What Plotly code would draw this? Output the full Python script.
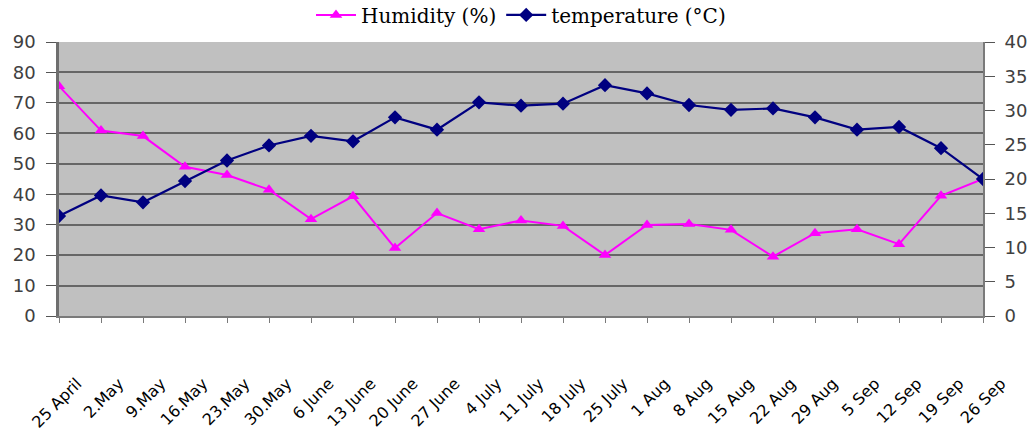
import plotly.graph_objects as go

# Weekly observation dates
dates = ["25 April", "2.May", "9.May", "16.May", "23.May", "30.May", "6 June",
         "13 June", "20 June", "27 June", "4 July", "11 July", "18 July",
         "25 July", "1 Aug", "8 Aug", "15 Aug", "22 Aug", "29 Aug", "5 Sep",
         "12 Sep", "19 Sep", "26 Sep"]

# Relative humidity (%), left axis
humidity = [75.5, 60.9, 59.1, 49.0, 46.3, 41.5, 31.8, 39.3, 22.3, 33.8, 28.5, 31.4,
            29.6, 20.0, 29.9, 30.2, 28.3, 19.5, 27.2, 28.5, 23.6, 39.5, 45.0]

# Air temperature (°C), right axis
temperature = [14.6, 17.6, 16.6, 19.7, 22.7, 24.9, 26.3, 25.5, 29.0, 27.2, 31.2, 30.7,
               31.0, 33.7, 32.5, 30.8, 30.1, 30.3, 29.0, 27.2, 27.6, 24.5, 20.0]

left_ticks = list(range(0, 91, 10))
right_ticks = list(range(0, 41, 5))

fig = go.Figure()

fig.add_trace(go.Scatter(
    x=dates, y=humidity, name="Humidity (%)", mode="lines+markers",
    line=dict(color="#ff00ff", width=2),
    marker=dict(symbol="triangle-up", size=11, color="#ff00ff"),
    yaxis="y",
))
fig.add_trace(go.Scatter(
    x=dates, y=temperature, name="temperature (°C)", mode="lines+markers",
    line=dict(color="#000080", width=2.2),
    marker=dict(symbol="diamond", size=11, color="#000080"),
    yaxis="y2",
))

axis_font = dict(family="DejaVu Sans", size=18, color="#404040")

fig.update_layout(
    width=1033, height=439,
    margin=dict(l=59, r=50, t=42, b=123, autoexpand=False),
    paper_bgcolor="white",
    plot_bgcolor="#c0c0c0",
    showlegend=True,
    legend=dict(
        orientation="h", x=0.5, xanchor="center",
        y=0.966, yref="container", yanchor="middle",
        font=dict(family="DejaVu Serif", size=20, color="black"),
        bgcolor="rgba(0,0,0,0)", itemwidth=40,
    ),
    xaxis=dict(
        type="category", range=[0, len(dates) - 1],
        showgrid=False, zeroline=False,
        showline=True, linecolor="#7a7a7a", linewidth=2,
        ticks="outside", ticklen=5, tickcolor="#7a7a7a", tickwidth=1,
        tickangle=-45,
        tickfont=dict(family="DejaVu Sans", size=16, color="black"),
        ticklabelstandoff=45, ticklabelshift=18,
    ),
    yaxis=dict(
        range=[0, 90], tickvals=left_ticks,
        showgrid=True, gridcolor="#666666", gridwidth=2,
        zeroline=False,
        showline=True, linecolor="#6e6e6e", linewidth=2.5,
        ticks="outside", ticklen=10, tickcolor="#555555", tickwidth=1,
        tickfont=axis_font, ticklabelstandoff=7,
    ),
    yaxis2=dict(
        range=[0, 40], tickvals=right_ticks,
        overlaying="y", side="right",
        showgrid=False, zeroline=False,
        showline=True, linecolor="#7a7a7a", linewidth=2,
        ticks="outside", ticklen=10, tickcolor="#555555", tickwidth=1,
        tickfont=axis_font, ticklabelstandoff=6,
    ),
)

fig.write_html("out.html")
